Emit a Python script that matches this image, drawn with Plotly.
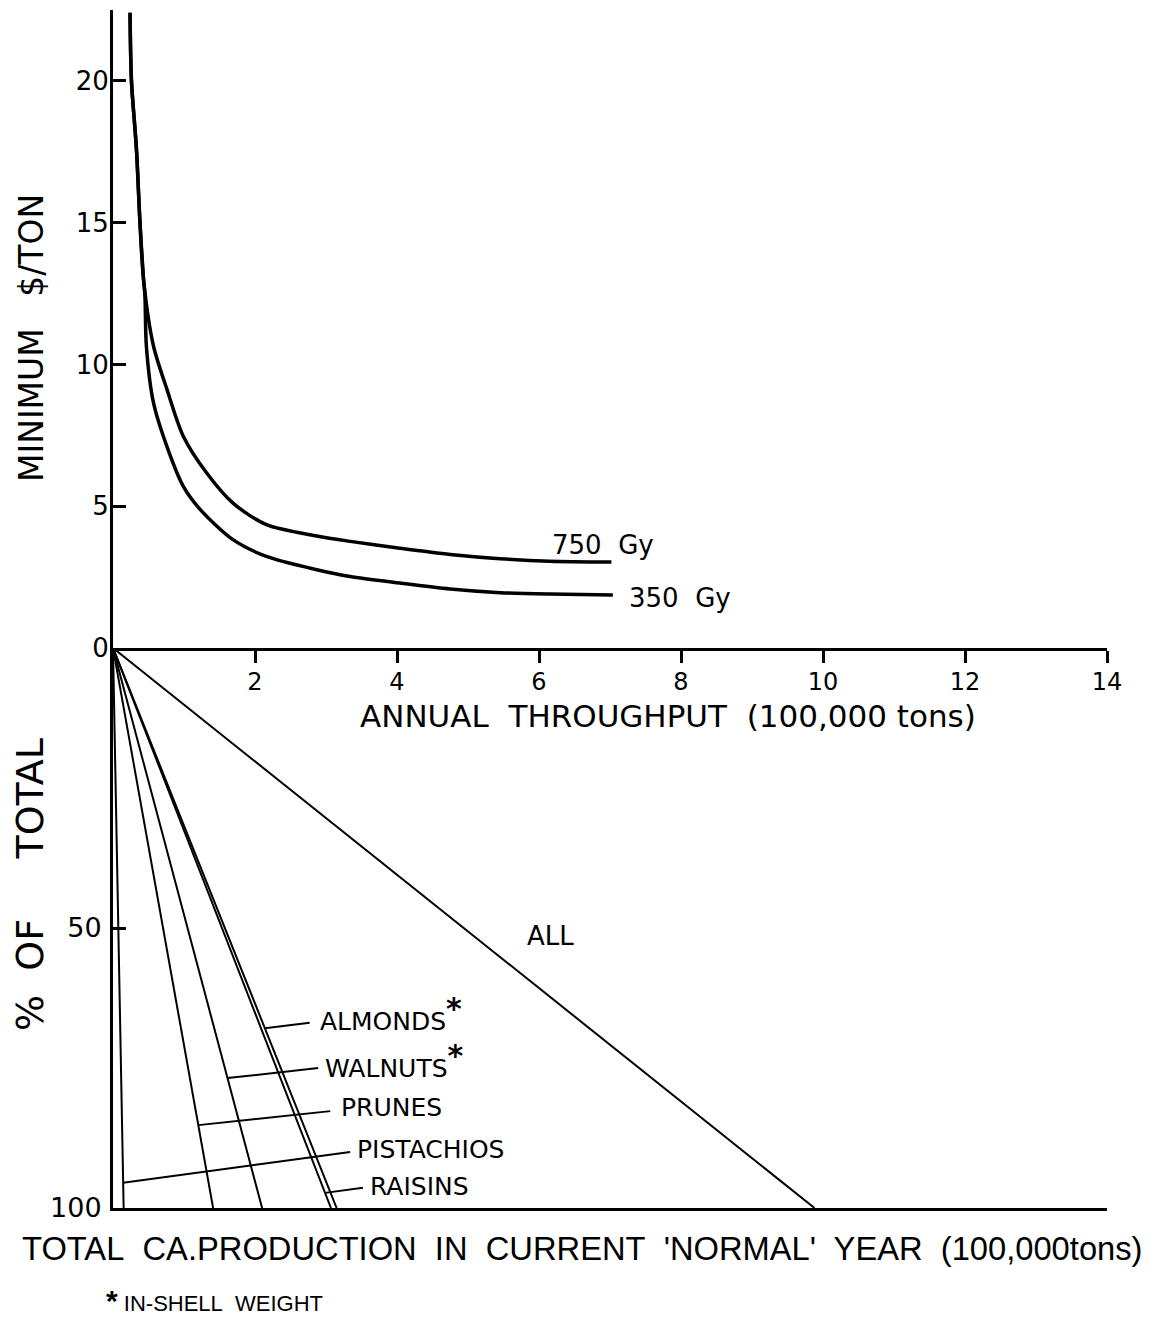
import plotly.graph_objects as go

# ---------------- data ----------------
# Top panel: minimum $/ton vs annual throughput (100,000 tons)
gy750_x = [0.24, 0.26, 0.33, 0.38, 0.43, 0.57, 0.76, 0.99, 1.32, 1.69, 2.16, 2.87, 3.34, 4.04, 4.75, 5.45, 6.15, 7.02]
gy750_y = [22.4, 20.0, 17.6, 15.0, 13.0, 10.65, 9.12, 7.47, 6.17, 5.11, 4.35, 3.95, 3.76, 3.52, 3.30, 3.15, 3.06, 3.03]
gy350_x = [0.24, 0.26, 0.33, 0.38, 0.43, 0.45, 0.47, 0.57, 0.76, 0.99, 1.23, 1.69, 2.16, 2.87, 3.34, 4.04, 4.75, 5.45, 6.15, 7.04]
gy350_y = [22.4, 20.0, 17.6, 15.0, 13.0, 12.4, 10.65, 8.65, 7.10, 5.70, 4.88, 3.82, 3.23, 2.76, 2.52, 2.29, 2.08, 1.95, 1.90, 1.87]

# Bottom panel: total CA production in current 'normal' year (100,000 tons)
crops = ["ALMONDS", "WALNUTS", "PRUNES", "PISTACHIOS", "RAISINS"]
in_shell = [True, True, False, False, False]
production = [3.15, 2.10, 1.41, 0.15, 3.07]
all_total = sum(production)

top_yticks = [0, 5, 10, 15, 20]
x_ticks = [2, 4, 6, 8, 10, 12, 14]
bottom_yticks = [50, 100]

# ---------------- layout constants ----------------
FONT = "DejaVu Sans"
BLACK = "black"
# leader anchor on the crop line (% of total) and label positions
leader_pct = [67.9, 76.8, 85.2, 95.5, 97.3]
leader_end = [(2.77, 66.9), (2.89, 75.0), (3.06, 82.7), (3.34, 90.0), (3.52, 96.4)]
label_pos = [(2.89, 65.3), (2.96, 73.7), (3.18, 82.1), (3.41, 89.6), (3.59, 96.2)]

# page geometry (browser body has an 8px margin)
OFF = 8
PAGE_W, PAGE_H = 1157, 1334
PLOT_L, PLOT_R, PLOT_T, PLOT_B = 113, 1107, 10, 1208
W, H = PAGE_W - OFF, PAGE_H - OFF
L, T = PLOT_L - OFF, PLOT_T - OFF
R = W - (PLOT_R - OFF)
B = H - (PLOT_B - OFF)
PW, PH = PLOT_R - PLOT_L, PLOT_B - PLOT_T
split = (PLOT_B - 648) / PH  # fraction of plot height for bottom panel


def px2paper(px, py):
    return (px - PLOT_L) / PW, (PLOT_B - py) / PH


fig = go.Figure()

# dose curves
for xs, ys in ((gy750_x, gy750_y), (gy350_x, gy350_y)):
    fig.add_trace(go.Scatter(x=xs, y=ys, mode="lines", xaxis="x", yaxis="y",
                             line=dict(color=BLACK, width=3.5, shape="spline", smoothing=0.8),
                             showlegend=False, hoverinfo="skip"))

# production lines (from origin to 100 % at total production)
for c, p in zip(crops, production):
    fig.add_trace(go.Scatter(x=[0, p], y=[0, 100], mode="lines", xaxis="x2", yaxis="y2",
                             line=dict(color=BLACK, width=2), showlegend=False, name=c,
                             hoverinfo="skip"))
fig.add_trace(go.Scatter(x=[0, all_total], y=[0, 100], mode="lines", xaxis="x2", yaxis="y2",
                         line=dict(color=BLACK, width=2), showlegend=False, name="ALL",
                         hoverinfo="skip"))

# leader lines
for c, p, pct, (ex, ey) in zip(crops, production, leader_pct, leader_end):
    fig.add_trace(go.Scatter(x=[p * pct / 100, ex], y=[pct, ey], mode="lines", xaxis="x2", yaxis="y2",
                             line=dict(color=BLACK, width=2), showlegend=False, hoverinfo="skip"))

annotations = []
for c, star, (lx, ly) in zip(crops, in_shell, label_pos):
    txt = c + ("<sup><b><span style='font-size:30px'>*</span></b></sup>" if star else "")
    annotations.append(dict(x=lx, y=ly, xref="x2", yref="y2", text=txt, showarrow=False,
                            xanchor="left", yanchor="middle", font=dict(family=FONT, size=25, color=BLACK)))

annotations.append(dict(x=5.80, y=51.4, xref="x2", yref="y2", text="ALL", showarrow=False,
                        xanchor="left", yanchor="middle", font=dict(family=FONT, size=26, color=BLACK)))
annotations.append(dict(x=6.15, y=3.63, xref="x", yref="y", text="750\u00a0 Gy", showarrow=False,
                        xanchor="left", yanchor="middle", font=dict(family=FONT, size=26, color=BLACK)))
annotations.append(dict(x=7.24, y=1.76, xref="x", yref="y", text="350\u00a0 Gy", showarrow=False,
                        xanchor="left", yanchor="middle", font=dict(family=FONT, size=26, color=BLACK)))

# axis titles
x, y = px2paper(668, 716)
annotations.append(dict(x=x, y=y, xref="paper", yref="paper", showarrow=False,
                        text="ANNUAL\u00a0 THROUGHPUT\u00a0 (100,000 tons)",
                        xanchor="center", yanchor="middle", font=dict(family=FONT, size=31, color=BLACK)))
x, y = px2paper(20, 1248)
annotations.append(dict(x=x, y=y, xref="paper", yref="paper", showarrow=False,
                        text="TOTAL\u00a0 CA.PRODUCTION\u00a0 IN\u00a0 CURRENT\u00a0 'NORMAL'\u00a0 YEAR\u00a0 (100,000tons)",
                        xanchor="left", yanchor="middle", font=dict(family="Liberation Sans", size=32.7, color=BLACK)))
x, y = px2paper(31, 338)
annotations.append(dict(x=x, y=y, xref="paper", yref="paper", showarrow=False,
                        text="MINIMUM\u00a0 \u00a0$/TON", textangle=-90,
                        xanchor="center", yanchor="middle", font=dict(family=FONT, size=33, color=BLACK)))
x, y = px2paper(30, 885)
annotations.append(dict(x=x, y=y, xref="paper", yref="paper", showarrow=False,
                        text="%\u00a0 OF\u00a0 \u00a0\u00a0 TOTAL", textangle=-90,
                        xanchor="center", yanchor="middle", font=dict(family=FONT, size=38, color=BLACK)))
x, y = px2paper(104, 1300)
annotations.append(dict(x=x, y=y, xref="paper", yref="paper", showarrow=False,
                        text="<b><span style='font-size:30px'>*</span></b> IN-SHELL\u00a0 WEIGHT",
                        xanchor="left", yanchor="middle", font=dict(family="Liberation Sans", size=22, color=BLACK)))

axis_common = dict(showgrid=False, zeroline=False, showline=True, linecolor=BLACK, linewidth=3,
                   tickcolor=BLACK, tickwidth=2.5)

fig.update_layout(
    width=W, height=H,
    margin=dict(l=L, r=R, t=T, b=B, autoexpand=False),
    paper_bgcolor="white", plot_bgcolor="white",
    showlegend=False,
    xaxis=dict(domain=[0, 1], anchor="y", range=[0, 14], tickvals=x_ticks, ticks="outside", ticklen=12,
               ticklabelstandoff=-2, tickfont=dict(family=FONT, size=24, color=BLACK), **axis_common),
    yaxis=dict(domain=[split, 1], anchor="x", range=[0, 22.5], tickvals=top_yticks, ticks="inside", ticklen=13,
               ticklabelstandoff=-4, tickfont=dict(family=FONT, size=26, color=BLACK), **axis_common),
    xaxis2=dict(domain=[0, 1], anchor="y2", range=[0, 14], ticks="", showticklabels=False, **axis_common),
    yaxis2=dict(domain=[0, split], anchor="x2", range=[100, 0], tickvals=bottom_yticks, ticks="inside", ticklen=13,
                ticklabelstandoff=3, tickfont=dict(family=FONT, size=27, color=BLACK), **axis_common),
    annotations=annotations,
)

fig.write_html("out.html")
